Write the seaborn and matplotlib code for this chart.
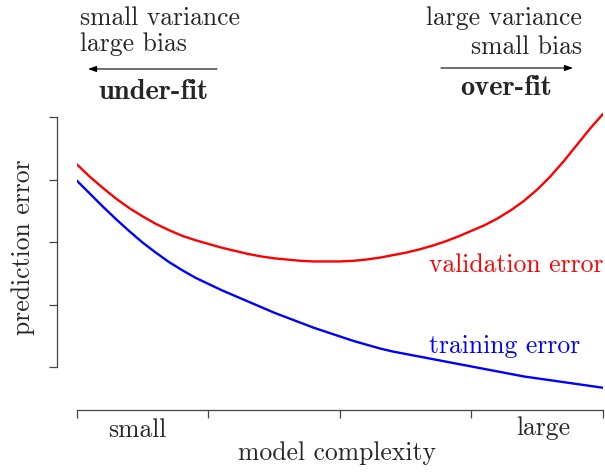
import numpy as np
import pandas as pd
import matplotlib
matplotlib.use("Agg")
import matplotlib.pyplot as plt
import seaborn as sns

# model complexity (arbitrary units, 0 = small, 4 = large)
complexity = [0.0, 0.1, 0.2, 0.3, 0.4, 0.5, 0.6, 0.7, 0.8, 0.9, 1.0,
              1.1, 1.2, 1.3, 1.4, 1.5, 1.6, 1.7, 1.8, 1.9, 2.0,
              2.1, 2.2, 2.3, 2.4, 2.5, 2.6, 2.7, 2.8, 2.9, 3.0,
              3.1, 3.2, 3.3, 3.4, 3.5, 3.6, 3.7, 3.8, 3.9, 4.0]
validation_error = [3.24, 3.04, 2.86, 2.69, 2.54, 2.41, 2.29, 2.19, 2.10, 2.03, 1.97,
                    1.91, 1.86, 1.81, 1.77, 1.74, 1.72, 1.70, 1.69, 1.69, 1.69,
                    1.70, 1.72, 1.75, 1.79, 1.83, 1.88, 1.94, 2.01, 2.09, 2.18,
                    2.27, 2.38, 2.51, 2.66, 2.84, 3.05, 3.29, 3.55, 3.81, 4.05]
training_error = [2.98, 2.77, 2.56, 2.36, 2.17, 1.99, 1.83, 1.68, 1.55, 1.43, 1.33,
                  1.23, 1.14, 1.05, 0.96, 0.87, 0.79, 0.71, 0.63, 0.56, 0.49,
                  0.42, 0.36, 0.30, 0.25, 0.21, 0.17, 0.13, 0.09, 0.05, 0.01,
                  -0.03, -0.07, -0.11, -0.15, -0.18, -0.21, -0.24, -0.27, -0.30, -0.33]
x_ticks = [0, 1, 2, 3, 4]
y_ticks = [0, 1, 2, 3, 4]

df = pd.DataFrame({
    "complexity": complexity * 2,
    "error": validation_error + training_error,
    "kind": ["validation error"] * len(complexity) + ["training error"] * len(complexity),
})

sns.set_style("ticks")
plt.rcParams["font.family"] = ["cmr10", "DejaVu Serif"]
plt.rcParams["axes.unicode_minus"] = False
plt.rcParams["axes.formatter.use_mathtext"] = True

FS = 18.5
FSB = 20.5
W, H = 605, 472
fig = plt.figure(figsize=(W / 100, H / 100), dpi=100)
ax_left, ax_right, ax_bottom, ax_top = 77, 603, 389, 110.75
ax = fig.add_axes([ax_left / W, 1 - ax_bottom / H, (ax_right - ax_left) / W, (ax_bottom - ax_top) / H])

sns.lineplot(data=df, x="complexity", y="error", hue="kind",
             palette={"validation error": "#ff0000", "training error": "#0000ff"},
             linewidth=1.7, legend=False, ax=ax)

ax.set_xlim(0, 4)
ax.set_ylim(-0.35, 4.1)
ax.set_xticks(x_ticks)
ax.set_yticks(y_ticks)
ax.set_xticklabels([])
ax.set_yticklabels([])
ax.tick_params(length=6, width=0.9, color="#444444")
for s in ["left", "bottom"]:
    ax.spines[s].set_color("#444444")
    ax.spines[s].set_linewidth(0.9)
sns.despine(ax=ax, offset={"left": 14.5, "bottom": 15}, trim=True)

ax.set_xlabel("model complexity", fontsize=FS)
ax.set_ylabel("prediction error", fontsize=FS)
ax.xaxis.set_label_coords((337 - ax_left) / (ax_right - ax_left), (ax_bottom - 441) / (ax_bottom - ax_top))
ax.yaxis.set_label_coords((35 - ax_left) / (ax_right - ax_left), (ax_bottom - 247) / (ax_bottom - ax_top))

fig.text(137 / W, 1 - 430 / H, "small", fontsize=FS, ha="center", va="center")
fig.text(543 / W, 1 - 428 / H, "large", fontsize=FS, ha="center", va="center")

ax.text(2.68, 1.63, "validation error", color="#ff0000", fontsize=FS, ha="left", va="center")
ax.text(2.68, 0.34, "training error", color="#0000ff", fontsize=FS, ha="left", va="center")

# top annotations
fig.text(80 / W, 1 - 18 / H, "small variance", fontsize=FS, ha="left", va="center")
fig.text(80 / W, 1 - 44 / H, "large bias", fontsize=FS, ha="left", va="center")
fig.text(582 / W, 1 - 18 / H, "large variance", fontsize=FS, ha="right", va="center")
fig.text(582 / W, 1 - 47 / H, "small bias", fontsize=FS, ha="right", va="center")
fig.text(154 / W, 1 - 92 / H, "under-fit", fontsize=FSB, ha="center", va="center",
         family=["cmb10", "DejaVu Serif"])
fig.text(506 / W, 1 - 88 / H, "over-fit", fontsize=FSB, ha="center", va="center",
         family=["cmb10", "DejaVu Serif"])

arrow = dict(arrowstyle="-|>,head_length=0.5,head_width=0.18", color="black", lw=0.8,
             shrinkA=0, shrinkB=0)
ax.annotate("", xy=(88 / W, 1 - 69 / H), xytext=(217 / W, 1 - 69 / H),
            xycoords="figure fraction", textcoords="figure fraction", arrowprops=arrow,
            annotation_clip=False)
ax.annotate("", xy=(573 / W, 1 - 68 / H), xytext=(441 / W, 1 - 68 / H),
            xycoords="figure fraction", textcoords="figure fraction", arrowprops=arrow,
            annotation_clip=False)

fig.savefig("out.png", dpi=100)
